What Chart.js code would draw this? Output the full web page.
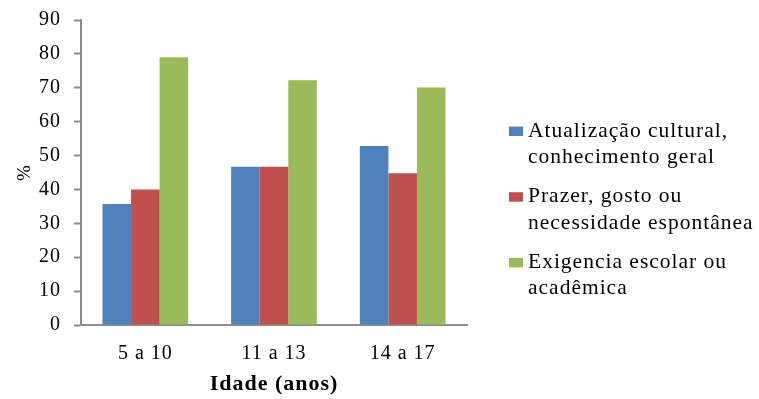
<!DOCTYPE html>
<html>
<head>
<meta charset="utf-8">
<script src="https://cdn.jsdelivr.net/npm/chart.js@4/dist/chart.umd.min.js"></script>
<style>
  html, body { margin: 0; padding: 0; background: #fff; }
  #wrap { width: 759px; height: 399px; }
</style>
</head>
<body>
<div id="wrap"><canvas id="c" width="759" height="399"></canvas></div>
<script>
// Motivos de leitura por faixa etária (%)
const categories = ['5 a 10', '11 a 13', '14 a 17'];
const atualizacao = [35.7, 46.7, 52.8];
const prazer = [40.0, 46.7, 44.8];
const exigencia = [79.0, 72.2, 70.1];
const seriesNames = [
  ['Atualização cultural,', 'conhecimento geral'],
  ['Prazer, gosto ou', 'necessidade espontânea'],
  ['Exigencia escolar ou', 'acadêmica']
];
const yTicks = [0, 10, 20, 30, 40, 50, 60, 70, 80, 90];
const colors = ['#4F81BD', '#C0504D', '#9BBB59'];

const serif = "'Liberation Serif', 'Times New Roman', serif";
const axisGray = '#8C8C8C';

const seriesValues = [atualizacao, prazer, exigencia];

// Slightly wider letter spacing for all canvas text
const textSpacing = {
  id: 'textSpacing',
  beforeDraw(chart) {
    if ('letterSpacing' in chart.ctx) chart.ctx.letterSpacing = '1px';
  }
};

// Legend on the right: square marker + two-line label per series
const sideLegend = {
  id: 'sideLegend',
  afterDraw(chart) {
    const { ctx, chartArea } = chart;
    const boxX = chartArea.right + 42;
    const textX = boxX + 19;
    const firstBaseline = 136.5;
    const itemStep = 65.7;
    const lineStep = 26.5;
    ctx.save();
    ctx.font = `21.5px ${serif}`;
    ctx.textAlign = 'left';
    ctx.textBaseline = 'alphabetic';
    chart.data.datasets.forEach((ds, i) => {
      const base = firstBaseline + i * itemStep;
      ctx.fillStyle = ds.backgroundColor;
      ctx.fillRect(boxX, base - 10, 14, 9.5);
      ctx.fillStyle = '#000';
      ds.label.forEach((line, j) => ctx.fillText(line, textX, base + j * lineStep));
    });
    ctx.restore();
  }
};

new Chart(document.getElementById('c'), {
  type: 'bar',
  data: {
    labels: categories,
    datasets: seriesValues.map((vals, i) => ({
      label: seriesNames[i],
      data: vals,
      backgroundColor: colors[i],
      borderWidth: 0,
      categoryPercentage: 0.666,
      barPercentage: 1.0
    }))
  },
  plugins: [textSpacing, sideLegend],
  options: {
    responsive: false,
    animation: false,
    devicePixelRatio: 1,
    layout: { padding: { top: 20, right: 292, bottom: 0, left: 0 } },
    plugins: {
      tooltip: { enabled: false },
      legend: { display: false }
    },
    scales: {
      x: {
        afterFit(scale) { scale.height = 74; },
        grid: { display: false, drawTicks: false },
        border: { display: true, color: axisGray, width: 2 },
        ticks: {
          color: '#000',
          padding: 16.5,
          font: { family: serif, size: 20, lineHeight: 1.2 }
        },
        title: {
          display: true,
          text: 'Idade (anos)',
          color: '#000',
          padding: { top: 0, bottom: 1 },
          font: { family: serif, size: 22, weight: 'bold', lineHeight: 1.2 }
        }
      },
      y: {
        min: 0,
        max: 90,
        afterFit(scale) { scale.width = 81; },
        afterBuildTicks(scale) {
          scale.ticks = yTicks.map(v => ({ value: v }));
        },
        grid: {
          drawOnChartArea: false,
          drawTicks: true,
          tickLength: 7,
          tickColor: axisGray,
          tickWidth: 2
        },
        border: { display: true, color: axisGray, width: 2 },
        ticks: {
          color: '#000',
          padding: 13,
          font: { family: serif, size: 20, lineHeight: 0.5 }
        },
        title: {
          display: true,
          text: '%',
          color: '#000',
          padding: { top: 14, bottom: 0 },
          font: { family: serif, size: 19, lineHeight: 1.2 }
        }
      }
    }
  }
});
</script>
</body>
</html>
